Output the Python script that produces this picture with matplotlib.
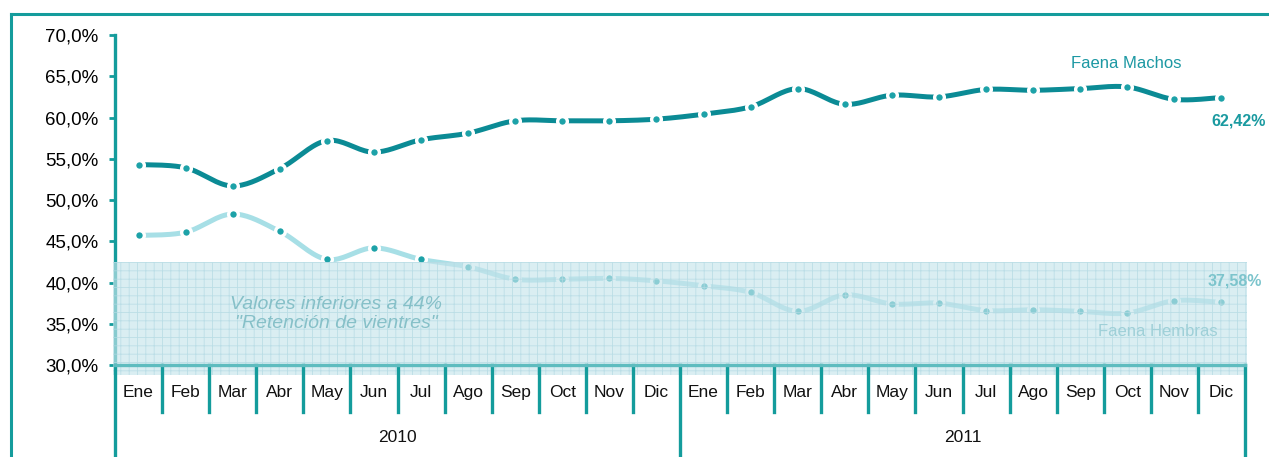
import numpy as np
import matplotlib
matplotlib.use("Agg")
import matplotlib.pyplot as plt
from matplotlib.patches import Rectangle
from matplotlib.lines import Line2D

plt.rcParams['font.family'] = ['Liberation Sans', 'DejaVu Sans']
plt.rcParams['hatch.linewidth'] = 0.6

# datos
meses = ["Ene", "Feb", "Mar", "Abr", "May", "Jun", "Jul", "Ago", "Sep", "Oct", "Nov", "Dic"]
anios = ["2010", "2011"]
machos = [54.3, 53.9, 51.7, 53.8, 57.2, 55.8, 57.3, 58.1, 59.6, 59.6, 59.6, 59.8,
          60.4, 61.3, 63.5, 61.6, 62.7, 62.5, 63.4, 63.3, 63.5, 63.7, 62.2, 62.42]
hembras = [45.7, 46.1, 48.3, 46.2, 42.8, 44.2, 42.8, 41.9, 40.4, 40.4, 40.5, 40.2,
           39.6, 38.8, 36.5, 38.5, 37.4, 37.5, 36.6, 36.7, 36.5, 36.3, 37.8, 37.58]
yticks = [30, 35, 40, 45, 50, 55, 60, 65, 70]
zona_limite = 42.5

TEAL = '#149c9c'
C_MACHOS = '#0b8b95'
C_HEMBRAS = '#a7dfe6'
C_PUNTO = '#1da2a8'
W, H = 1269, 457


def suavizar(y, n=20):
    # curva tipo Catmull-Rom como las lineas suavizadas de Excel
    y = np.asarray(y, float)
    x = np.arange(len(y), dtype=float)
    px = np.concatenate([[x[0]], x, [x[-1]]])
    py = np.concatenate([[y[0]], y, [y[-1]]])
    xs, ys = [], []
    for i in range(1, len(px) - 2):
        t = np.linspace(0, 1, n, endpoint=False)
        for arr, out in ((px, xs), (py, ys)):
            p0, p1, p2, p3 = arr[i - 1], arr[i], arr[i + 1], arr[i + 2]
            out.extend(0.5 * ((2 * p1) + (-p0 + p2) * t
                              + (2 * p0 - 5 * p1 + 4 * p2 - p3) * t ** 2
                              + (-p0 + 3 * p1 - 3 * p2 + p3) * t ** 3))
    xs.append(x[-1])
    ys.append(y[-1])
    return np.array(xs), np.array(ys)


def texto(px, py, s, **kw):
    # posicion en pixeles desde la esquina superior izquierda
    fig.text(px / W, 1 - py / H, s, ha='center', va='center', **kw)


fig = plt.figure(figsize=(W / 100, H / 100), dpi=100)
ax = fig.add_axes([115 / W, 1 - 365 / H, (1245 - 115) / W, 330 / H])

n = len(machos)
x = np.arange(n)
for serie, color in ((machos, C_MACHOS), (hembras, C_HEMBRAS)):
    sx, sy = suavizar(serie)
    ax.plot(sx, sy, color=color, lw=3.6, solid_capstyle='butt', zorder=3)
    ax.plot(x, serie, ls='none', marker='o', ms=7, mfc=C_PUNTO, mec='white',
            mew=2.4, zorder=4)

# zona sombreada
ax.add_patch(Rectangle((-0.55, 28.8), n + 0.1, zona_limite - 28.8, facecolor='#c7e5ec',
                       alpha=0.65, edgecolor='none', zorder=5, clip_on=False))
ax.add_patch(Rectangle((-0.55, 28.8), n + 0.1, zona_limite - 28.8, facecolor='none',
                       hatch='++', edgecolor='#b4dae3', lw=0, alpha=0.8, zorder=5,
                       clip_on=False))

ax.set_xlim(-0.5, n - 0.5)
ax.set_ylim(30, 70)
ax.set_yticks(yticks)
ax.set_yticklabels([f"{v:.1f}%".replace('.', ',') for v in yticks], fontsize=13.5)
ax.tick_params(axis='y', direction='out', length=4, width=2, color=TEAL, pad=8)
ax.set_xticks([])
for s in ('top', 'right'):
    ax.spines[s].set_visible(False)
ax.spines['left'].set_color(TEAL)
ax.spines['left'].set_linewidth(2.4)
ax.spines['bottom'].set_color('#5fbcbf')
ax.spines['bottom'].set_linewidth(2.4)
ax.spines['bottom'].set_zorder(6)

# ejes de categorias en dos niveles
tr = ax.get_xaxis_transform()
for i in range(n + 1):
    fondo = -0.3 if i % 12 == 0 else -0.143
    ax.plot([i - 0.5, i - 0.5], [0, fondo], color=TEAL, lw=2.4, transform=tr,
            clip_on=False, zorder=6)
for i in range(n):
    ax.text(i, -0.082, meses[i % 12], transform=tr, ha='center', va='center',
            fontsize=12.5, color='#111111')
for k, a in enumerate(anios):
    ax.text(k * 12 + 5.5, -0.22, a, transform=tr, ha='center', va='center',
            fontsize=12.5, color='#111111')

# textos
texto(1126, 64, "Faena Machos", fontsize=12, color='#1c98a3')
texto(1158, 332, "Faena Hembras", fontsize=12, color='#9fd0d8', zorder=7)
texto(1239, 121, "62,42%", fontsize=11.5, fontweight='bold', color='#1a9aa0')
texto(1235, 281, "37,58%", fontsize=11.5, fontweight='bold', color='#7cc4cc', zorder=7)
texto(336, 314, 'Valores inferiores a 44%\n"Retención de vientres"',
      fontsize=14, style='italic', color='#86c0c8', linespacing=1.15, zorder=7)

# marco exterior
fig.add_artist(Line2D([11.5 / W, 11.5 / W], [0, 1 - 13.5 / H], color=TEAL, lw=2.2))
fig.add_artist(Line2D([11.5 / W, 1], [1 - 13.5 / H, 1 - 13.5 / H], color=TEAL, lw=2.2))

fig.savefig("out.png", dpi=100)
